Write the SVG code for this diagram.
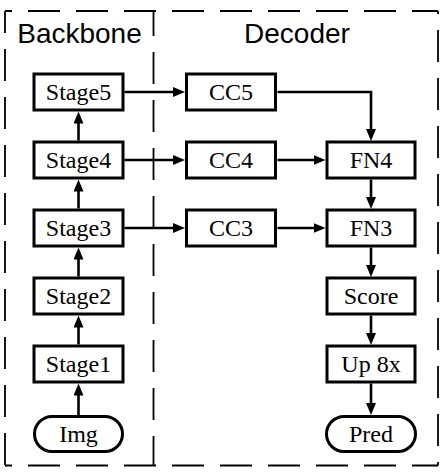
<svg xmlns="http://www.w3.org/2000/svg" width="444" height="474" viewBox="0 0 444 474">
  <style>
    .frame { fill: none; stroke: #000; stroke-width: 1.8; stroke-dasharray: 32 16; }
    .box { fill: #fff; stroke: #000; stroke-width: 3; }
    .lbl { font-family: "Liberation Serif", "Times New Roman", serif; font-size: 24px; fill: #000; text-anchor: middle; }
    .title { font-family: "Liberation Sans", Arial, sans-serif; font-size: 28px; fill: #000; text-anchor: middle; }
    .conn { fill: none; stroke: #000; stroke-width: 2.6; }
  </style>
  <defs>
    <marker id="arr" markerUnits="userSpaceOnUse" markerWidth="12" markerHeight="10" refX="2" refY="5" orient="auto">
      <path d="M0,0 L12,5 L0,10 Z" fill="#000"/>
    </marker>
  </defs>
  <rect width="444" height="474" fill="#fff"/>
  <g id="frames">
    <path class="frame" d="M5,11 H438" stroke-dashoffset="25"/>
    <path class="frame" d="M5,465.5 H438" stroke-dashoffset="25"/>
    <path class="frame" d="M5,11 V465.5" stroke-dashoffset="10"/>
    <path class="frame" d="M438,11 V465.5" stroke-dashoffset="29"/>
    <path class="frame" d="M153.5,11 V465.5" stroke-dashoffset="7"/>
    <text class="title" x="79.5" y="43">Backbone</text>
    <text class="title" x="297" y="43">Decoder</text>
  </g>
  <g id="connectors">
    <path class="conn" d="M124.5,92 H175" marker-end="url(#arr)"/>
    <path class="conn" d="M124.5,160 H175" marker-end="url(#arr)"/>
    <path class="conn" d="M124.5,228 H175" marker-end="url(#arr)"/>
    <path class="conn" d="M277.5,92 H371 V131" marker-end="url(#arr)"/>
    <path class="conn" d="M277.5,160 H315.5" marker-end="url(#arr)"/>
    <path class="conn" d="M277.5,228 H315.5" marker-end="url(#arr)"/>
    <path class="conn" d="M371,179.5 V199" marker-end="url(#arr)"/>
    <path class="conn" d="M371,247.5 V267" marker-end="url(#arr)"/>
    <path class="conn" d="M371,315.5 V335" marker-end="url(#arr)"/>
    <path class="conn" d="M371,383.5 V405" marker-end="url(#arr)"/>
    <path class="conn" d="M78.5,415 V393.5" marker-end="url(#arr)"/>
    <path class="conn" d="M78.5,344.5 V325.5" marker-end="url(#arr)"/>
    <path class="conn" d="M78.5,276.5 V257.5" marker-end="url(#arr)"/>
    <path class="conn" d="M78.5,208.5 V189.5" marker-end="url(#arr)"/>
    <path class="conn" d="M78.5,140.5 V121.5" marker-end="url(#arr)"/>
  </g>
  <g id="stage5"><rect class="box" x="34" y="74" width="89" height="36"/><text class="lbl" x="78.5" y="100">Stage5</text></g>
  <g id="stage4"><rect class="box" x="34" y="142" width="89" height="36"/><text class="lbl" x="78.5" y="168">Stage4</text></g>
  <g id="stage3"><rect class="box" x="34" y="210" width="89" height="36"/><text class="lbl" x="78.5" y="236">Stage3</text></g>
  <g id="stage2"><rect class="box" x="34" y="278" width="89" height="36"/><text class="lbl" x="78.5" y="304">Stage2</text></g>
  <g id="stage1"><rect class="box" x="34" y="346" width="89" height="36"/><text class="lbl" x="78.5" y="372">Stage1</text></g>
  <g id="img"><rect class="box" x="34.5" y="416.5" width="88" height="35" rx="17.5" ry="17.5" stroke-width="2.6"/><text class="lbl" x="78.5" y="442">Img</text></g>
  <g id="cc5"><rect class="box" x="186.5" y="74" width="89" height="36"/><text class="lbl" x="231" y="100">CC5</text></g>
  <g id="cc4"><rect class="box" x="186.5" y="142" width="89" height="36"/><text class="lbl" x="231" y="168">CC4</text></g>
  <g id="cc3"><rect class="box" x="186.5" y="210" width="89" height="36"/><text class="lbl" x="231" y="236">CC3</text></g>
  <g id="fn4"><rect class="box" x="327" y="142" width="88" height="36"/><text class="lbl" x="371" y="168">FN4</text></g>
  <g id="fn3"><rect class="box" x="327" y="210" width="88" height="36"/><text class="lbl" x="371" y="236">FN3</text></g>
  <g id="score"><rect class="box" x="327" y="278" width="88" height="36"/><text class="lbl" x="371" y="304">Score</text></g>
  <g id="up8x"><rect class="box" x="327" y="346" width="88" height="36"/><text class="lbl" x="371" y="372">Up 8x</text></g>
  <g id="pred"><rect class="box" x="326.5" y="416.5" width="89" height="35" rx="17.5" ry="17.5" stroke-width="2.6"/><text class="lbl" x="371" y="442">Pred</text></g>
</svg>
